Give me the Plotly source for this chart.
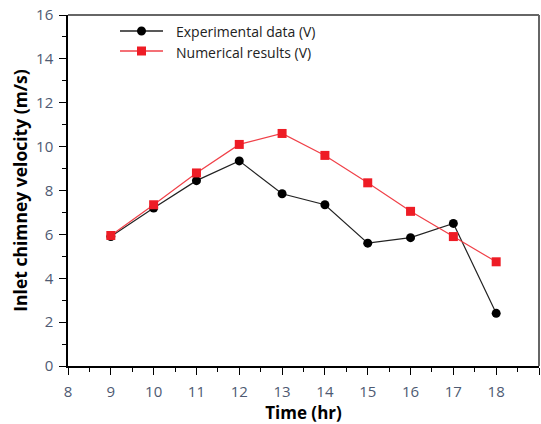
import plotly.graph_objects as go

time_hr = [9, 10, 11, 12, 13, 14, 15, 16, 17, 18]
experimental = [5.9, 7.2, 8.45, 9.35, 7.85, 7.35, 5.6, 5.85, 6.5, 2.4]
numerical = [5.95, 7.35, 8.8, 10.1, 10.6, 9.6, 8.35, 7.05, 5.9, 4.75]
series_names = ["Experimental data (V)", "Numerical results (V)"]

BLACK_LINE = "#222222"
RED_LINE = "#f04048"
RED_MARK = "#ee1c25"

fig = go.Figure()
fig.add_trace(go.Scatter(x=time_hr, y=experimental, mode="lines+markers",
                         name=series_names[0], showlegend=False,
                         line=dict(color=BLACK_LINE, width=1.2),
                         marker=dict(symbol="circle", size=9, color="black")))
fig.add_trace(go.Scatter(x=time_hr, y=numerical, mode="lines+markers",
                         name=series_names[1], showlegend=False,
                         line=dict(color=RED_LINE, width=1.2),
                         marker=dict(symbol="square", size=9, color=RED_MARK)))

# plot area in pixels
L, R, T, B = 68, 539, 15, 366
W, H = R - L, B - T
def px(x):
    return (x - L) / W
def py(y):
    return (B - y) / H

# manual legend
rows = [(31, BLACK_LINE, "circle", "black"), (51, RED_LINE, "square", RED_MARK)]
for (yy, lc, sym, mc), name in zip(rows, series_names):
    fig.add_shape(type="line", xref="paper", yref="paper",
                  x0=px(120), x1=px(163), y0=py(yy), y1=py(yy),
                  line=dict(color=lc, width=1.4))
    r = 4.5
    fig.add_shape(type="circle" if sym == "circle" else "rect", xref="paper", yref="paper",
                  x0=px(141.5 - r), x1=px(141.5 + r), y0=py(yy + r), y1=py(yy - r),
                  line=dict(width=0), fillcolor=mc)
    fig.add_annotation(xref="paper", yref="paper", x=px(174), y=py(yy + 1),
                       xanchor="left", yanchor="middle", showarrow=False,
                       text=name, font=dict(family="Open Sans", size=14, color="#222222"))

tickfont = dict(family="Open Sans", size=15, color="#4e5a72")
fig.update_layout(
    width=541, height=424,
    margin=dict(l=L, r=541 - R, t=T, b=424 - B),
    plot_bgcolor="white", paper_bgcolor="white",
    font=dict(family="Open Sans"),
    showlegend=False,
    xaxis=dict(range=[8, 19], dtick=1, tick0=8, showgrid=False, zeroline=False,
               showline=True, linecolor="black", linewidth=1.5,
               ticks="outside", ticklen=7, tickwidth=1.3, tickcolor="black",
               tickfont=tickfont, ticklabelstandoff=4,
               minor=dict(ticks="outside", ticklen=4, tickwidth=1.2, tickcolor="black", dtick=0.5, showgrid=False),
               title=dict(text="<b>Time (hr)</b>", font=dict(size=17, color="black"), standoff=5)),
    yaxis=dict(range=[0, 16], dtick=2, tick0=0, showgrid=False, zeroline=False,
               showline=True, linecolor="black", linewidth=1.5,
               ticks="outside", ticklen=7, tickwidth=1.3, tickcolor="black",
               tickfont=tickfont, ticklabelstandoff=3,
               minor=dict(ticks="outside", ticklen=4, tickwidth=1.2, tickcolor="black", dtick=1, showgrid=False),
               title=dict(text="<b>Inlet chimney velocity (m/s)</b>", font=dict(size=17.5, color="black"), standoff=4)),
)
fig.add_shape(type="line", xref="paper", yref="paper", x0=0, x1=1, y0=1, y1=1,
              line=dict(color="#666666", width=2))
fig.add_shape(type="line", xref="paper", yref="paper", x0=1, x1=1, y0=0, y1=1,
              line=dict(color="#666666", width=2))

fig.write_html("out.html")
